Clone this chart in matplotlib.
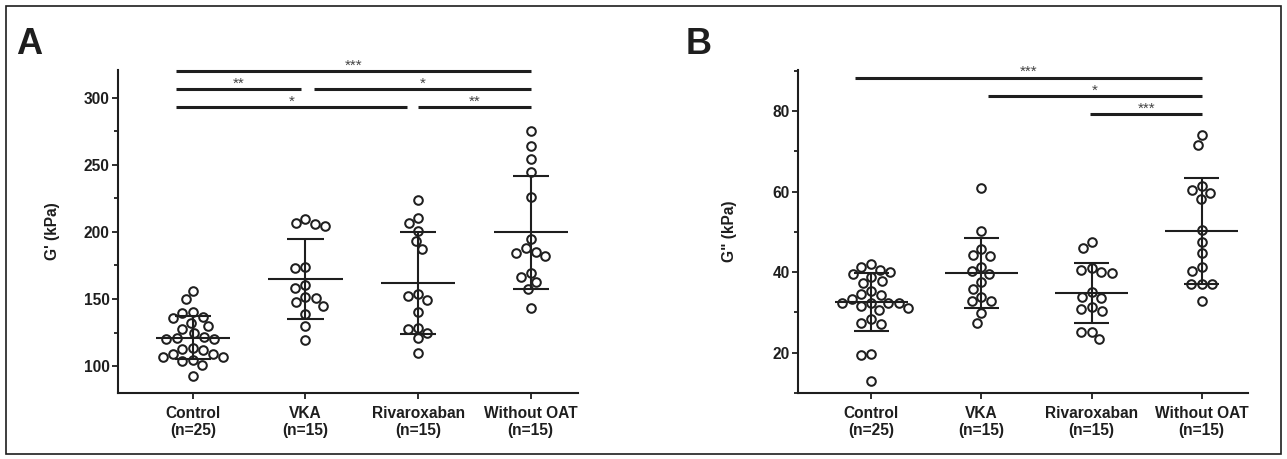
import matplotlib

matplotlib.use("Agg")
import matplotlib.pyplot as plt
import numpy as np
from matplotlib.patches import Rectangle
from matplotlib.ticker import MultipleLocator

plt.rcParams["font.family"] = ["Liberation Sans", "DejaVu Sans"]

GROUP_LABELS = ["Control\n(n=25)", "VKA\n(n=15)", "Rivaroxaban\n(n=15)", "Without OAT\n(n=15)"]

# G' (kPa), panel A
A_CONTROL = [156.1, 149.9, 140.0, 136.7, 139.7, 135.5, 132.3, 129.8, 127.3, 124.8,
             120.6, 119.9, 121.8, 119.9, 112.9, 108.9, 106.5, 104.5, 104.0, 106.5,
             108.9, 111.9, 113.2, 100.7, 92.8]
A_VKA = [209.5, 205.8, 204.3, 206.8, 172.8, 174.0, 157.9, 160.4, 150.4, 144.7,
         147.9, 151.6, 138.7, 129.8, 119.4]
A_RIVA = [223.7, 206.8, 210.5, 200.8, 193.1, 187.0, 153.4, 149.2, 152.4, 140.5,
          128.5, 124.8, 120.6, 127.3, 109.9]
A_WITHOUT = [275.3, 263.9, 254.0, 244.8, 225.7, 194.6, 187.7, 184.4, 182.2, 185.2,
             169.1, 166.5, 162.4, 157.2, 143.4]

# G'' (kPa), panel B
B_CONTROL = [41.3, 42.0, 40.0, 38.9, 39.5, 40.5, 37.9, 37.4, 35.4, 34.3,
             34.5, 33.4, 32.4, 32.3, 31.0, 30.6, 31.6, 32.4, 32.4, 28.3,
             27.1, 27.3, 19.6, 19.4, 13.0]
B_VKA = [61.0, 50.3, 44.0, 45.7, 44.2, 40.3, 41.3, 39.5, 37.6, 35.9,
         32.9, 32.9, 33.9, 29.8, 27.4]
B_RIVA = [47.5, 45.9, 41.1, 40.1, 39.9, 40.5, 35.1, 33.7, 33.9, 30.8,
          30.4, 31.3, 25.2, 25.2, 23.3]
B_WITHOUT = [74.0, 71.5, 61.4, 59.7, 58.1, 60.4, 50.4, 47.5, 44.8, 41.3,
             40.3, 37.0, 37.0, 37.0, 32.8]

# significance brackets: (start, end, level, stars)
A_SIG = [(-0.15, 3.0, 320, "***"), (-0.15, 0.96, 306, "**"), (1.08, 3.0, 306, "*"),
         (-0.15, 1.9, 293, "*"), (2.0, 3.0, 293, "**")]
B_SIG = [(-0.15, 3.0, 88.3, "***"), (1.06, 3.0, 83.7, "*"), (1.99, 3.0, 79.3, "***")]

INK = "#1e1e1e"
W, H = 1287, 459
LABEL_SIZE = 11.2


def swarm_offsets(ax, values, diameter_px):
    trans = ax.transData
    ypx = trans.transform(np.column_stack([np.zeros(len(values)), values]))[:, 1]
    xscale = trans.transform((1, 0))[0] - trans.transform((0, 0))[0]
    placed = []
    offsets = np.zeros(len(values))
    for i in np.argsort(-ypx, kind="stable"):
        y = ypx[i]
        near = [(px, py) for px, py in placed if abs(py - y) < diameter_px]
        cands = [0.0]
        for px, py in near:
            dx = np.sqrt(diameter_px ** 2 - (py - y) ** 2)
            cands += [px - dx, px + dx]
        cands.sort(key=lambda c: (round(abs(c), 3), c))
        for c in cands:
            if all((c - px) ** 2 + (y - py) ** 2 >= diameter_px ** 2 - 1e-6 for px, py in near):
                break
        offsets[i] = c
        placed.append((c, y))
    return offsets / xscale


def draw_panel(ax, groups, ylim, major, minor, ylabel, sig, label_x):
    ax.set_xlim(-0.665, 3.42)
    ax.set_ylim(*ylim)
    ax.spines["top"].set_visible(False)
    ax.spines["right"].set_visible(False)
    for s in ("left", "bottom"):
        ax.spines[s].set_linewidth(1.5)
        ax.spines[s].set_color(INK)
    ax.yaxis.set_major_locator(MultipleLocator(major))
    ax.yaxis.set_minor_locator(MultipleLocator(minor))
    ax.tick_params(axis="both", which="major", direction="out", length=4, width=1.3,
                   colors=INK, labelsize=LABEL_SIZE, pad=2)
    ax.tick_params(axis="y", which="minor", direction="out", length=3, width=1.3, colors=INK)
    ax.set_xticks(range(len(GROUP_LABELS)))
    ax.set_xticklabels(GROUP_LABELS, fontweight="bold", fontsize=LABEL_SIZE, linespacing=1.25)
    ax.tick_params(axis="x", pad=5)
    for t in ax.get_yticklabels():
        t.set_fontweight("bold")
    ax.set_ylabel(ylabel, fontsize=LABEL_SIZE, fontweight="bold", color=INK)
    ax.yaxis.set_label_coords(label_x, 0.5)

    for i, vals in enumerate(groups):
        vals = np.asarray(vals)
        xs = i + swarm_offsets(ax, vals, 10.6)
        ax.plot(xs, vals, "o", ms=6.2, mfc="white", mec=INK, mew=1.45, zorder=3, clip_on=False)
        m, sd = vals.mean(), vals.std(ddof=1)
        ax.hlines(m, i - 0.33, i + 0.33, color=INK, lw=1.5, zorder=4)
        ax.hlines([m - sd, m + sd], i - 0.16, i + 0.16, color=INK, lw=1.5, zorder=4)
        ax.vlines(i, m - sd, m + sd, color=INK, lw=1.5, zorder=4)

    for x0, x1, y, stars in sig:
        ax.plot([x0, x1], [y, y], color=INK, lw=2.2, solid_capstyle="butt", clip_on=False)
        ax.annotate(stars, xy=((x0 + x1) / 2, y), xytext=(0, 1.0), textcoords="offset points",
                    ha="center", va="baseline", fontsize=11, color="#444444",
                    annotation_clip=False)


fig = plt.figure(figsize=(W / 100, H / 100), dpi=100, facecolor="white")
ax_a = fig.add_axes([118 / W, 1 - 393 / H, 460 / W, 323 / H])
ax_b = fig.add_axes([798 / W, 1 - 393 / H, 450 / W, 323 / H])

draw_panel(ax_a, [A_CONTROL, A_VKA, A_RIVA, A_WITHOUT], (80, 320.5), 50, 25,
           "G' (kPa)", A_SIG, -0.125)
draw_panel(ax_b, [B_CONTROL, B_VKA, B_RIVA, B_WITHOUT], (10, 90.2), 20, 10,
           'G" (kPa)', B_SIG, -0.135)

fig.text(16 / W, 1 - 44 / H, "A", fontsize=26, fontweight="bold", color=INK, va="center", ha="left")
fig.text(686 / W, 1 - 45 / H, "B", fontsize=26, fontweight="bold", color=INK, va="center", ha="left")

fig.add_artist(Rectangle((6 / W, 1 - 454 / H), 1275 / W, 448 / H, transform=fig.transFigure,
                         fill=False, edgecolor=INK, lw=1.2))

fig.savefig("out.png", dpi=100, facecolor="white")
